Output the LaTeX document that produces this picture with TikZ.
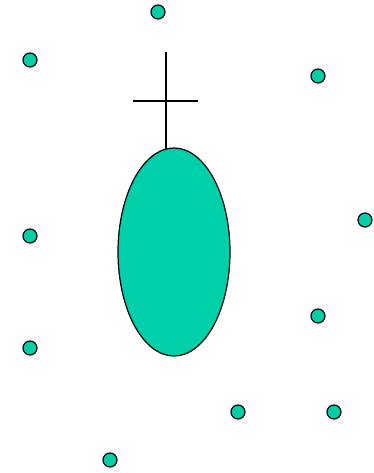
\documentclass[tikz,border=0pt]{standalone}
\usetikzlibrary{shapes.geometric}
\definecolor{teal1}{RGB}{0,208,170}
\begin{document}
\begin{tikzpicture}[x=1pt,y=-1pt,
  dot/.style={circle,draw=black,fill=teal1,line width=1.2pt,minimum size=14pt,inner sep=0pt},
  body/.style={ellipse,draw=black,fill=teal1,line width=1.2pt,minimum width=112pt,minimum height=208pt,inner sep=0pt},
  stick/.style={draw=black,line width=1.4pt}]
\useasboundingbox (0,0) rectangle (373,473);
\node[dot] (d1) at (158,12) {};
\node[dot] (d2) at (30,60) {};
\node[dot] (d3) at (318,76) {};
\node[dot] (d4) at (365,220) {};
\node[dot] (d5) at (30,236) {};
\node[dot] (d6) at (30,348) {};
\node[dot] (d7) at (318,316) {};
\node[dot] (d8) at (238,412) {};
\node[dot] (d9) at (334,412) {};
\node[dot] (d10) at (110,460) {};
\node[body] (e) at (174,252) {};
\coordinate (top) at (166,52);
\coordinate (bot) at (166,149);
\coordinate (l) at (133,101);
\coordinate (r) at (198,101);
\draw[stick] (top) -- (bot);
\draw[stick] (l) -- (r);
\end{tikzpicture}
\end{document}
